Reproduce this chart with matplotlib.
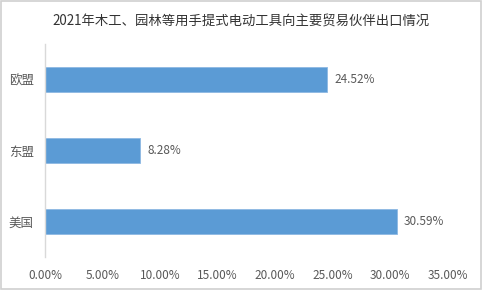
import matplotlib
matplotlib.use("Agg")
import matplotlib.pyplot as plt
from matplotlib.ticker import FuncFormatter
from matplotlib.patches import Rectangle

plt.rcParams['font.family'] = ['Noto Sans CJK SC', 'DejaVu Sans']

title = "2021年木工、园林等用手提式电动工具向主要贸易伙伴出口情况"
categories = ["美国", "东盟", "欧盟"]
shares = [30.59, 8.28, 24.52]
x_ticks = [0, 5, 10, 15, 20, 25, 30, 35]

text_color = "#595959"
bar_color = "#5B9BD5"

fig = plt.figure(figsize=(4.82, 2.9), dpi=100)
fig.patches.append(Rectangle((0.002, 0.003), 0.995, 0.993, transform=fig.transFigure,
                             fill=False, edgecolor="#D0D0D0", linewidth=1.2))
ax = fig.add_axes([0.0934, 0.1138, 0.8356, 0.7342])

y = range(len(categories))
ax.barh(y, shares, height=0.35, color=bar_color, edgecolor="#8DB8E3", linewidth=0.6)
for yi, v in zip(y, shares):
    ax.text(v + 0.6, yi, f"{v:.2f}%", va="center", ha="left", fontsize=8.5, color=text_color)

ax.set_xlim(0, 35)
ax.set_ylim(-0.5, 2.5)
ax.set_xticks(x_ticks)
ax.xaxis.set_major_formatter(FuncFormatter(lambda v, p: f"{v:.2f}%"))
ax.set_yticks(list(y))
ax.set_yticklabels(categories, fontsize=9)
ax.tick_params(axis="x", labelsize=8.5)
ax.tick_params(axis="both", length=0, colors=text_color)
ax.tick_params(axis="x", pad=9)
ax.tick_params(axis="y", pad=8)
for s in ["top", "right", "bottom"]:
    ax.spines[s].set_visible(False)
ax.spines["left"].set_color("#D9D9D9")
ax.spines["left"].set_linewidth(1.0)

fig.text(0.5, 0.925, title, ha="center", va="center", fontsize=9.6, color="#333333")

fig.savefig("out.png", dpi=100)
